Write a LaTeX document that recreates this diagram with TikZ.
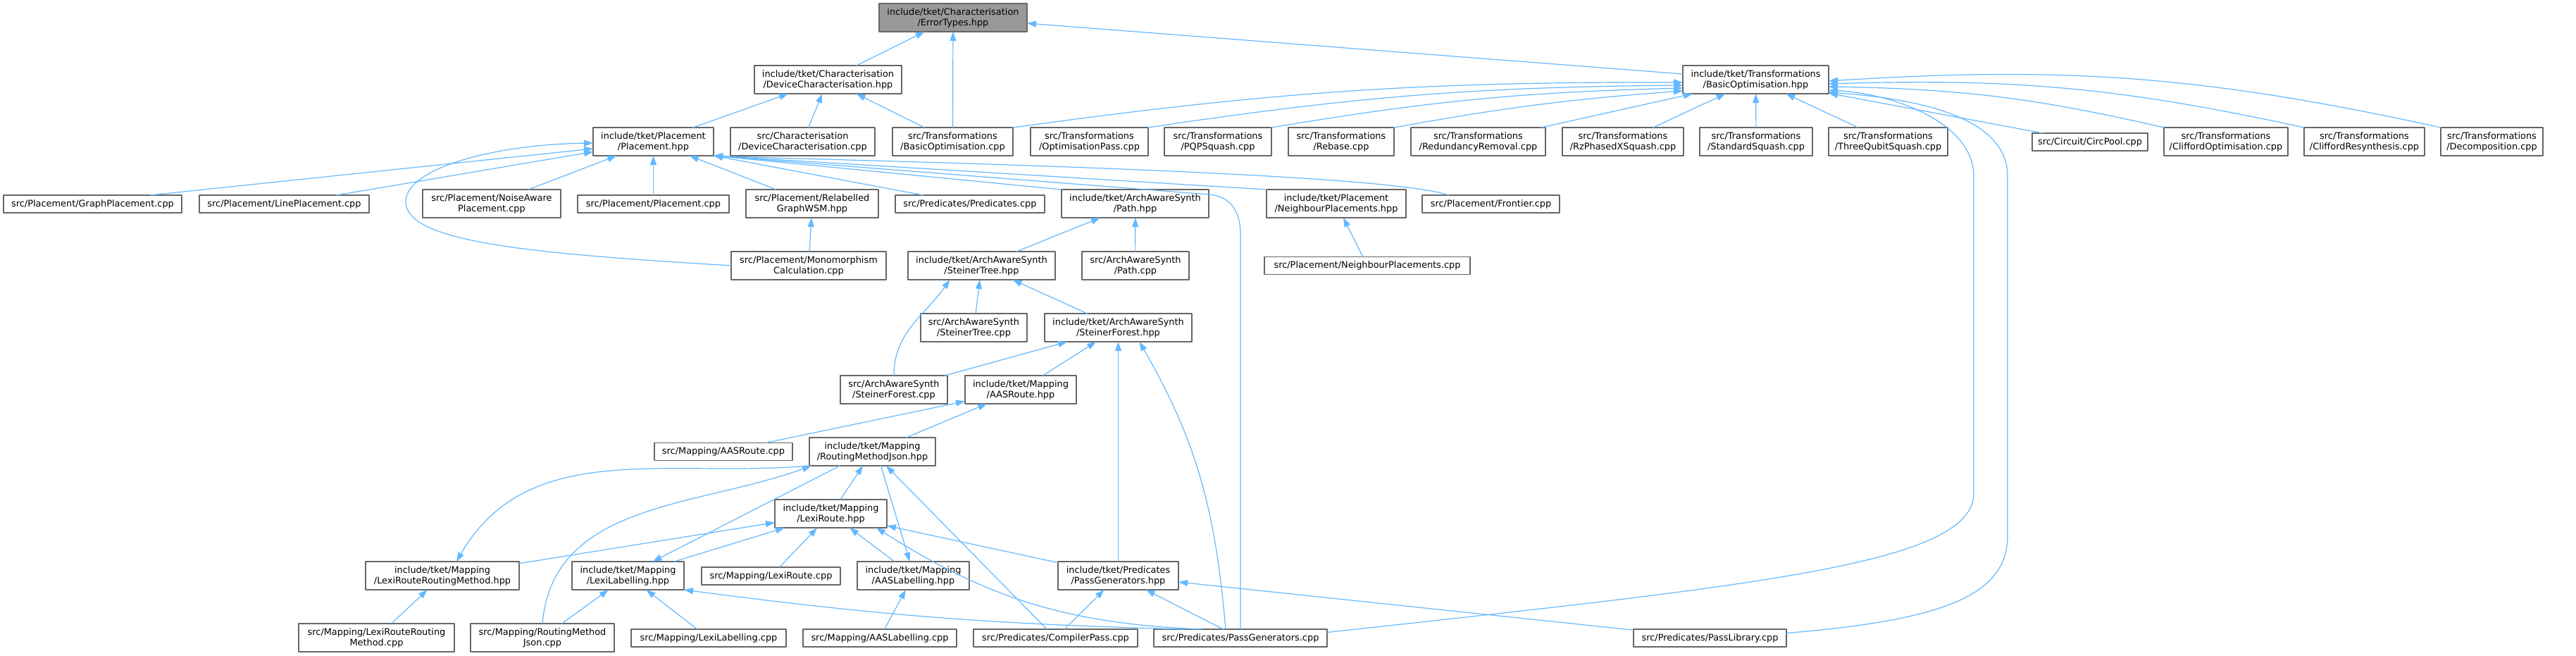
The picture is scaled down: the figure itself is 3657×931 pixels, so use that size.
\documentclass[tikz,border=0pt]{standalone}
\usepackage{fontspec}
\setmainfont{DejaVu Sans}
\usepackage{tikz}
\usetikzlibrary{arrows.meta}
\definecolor{depblue}{HTML}{63B8FF}
\definecolor{boxgrey}{HTML}{666666}
\definecolor{rootgrey}{HTML}{999999}
\tikzset{
    every picture/.style={line cap=round,line join=round},
    filenode/.style={draw=boxgrey,fill=white,line width=1.1pt,
      minimum height=40pt,inner sep=2pt,outer sep=0pt,
      font=\fontsize{12.9}{15}\selectfont,align=center},
    onerow/.style={minimum height=25pt},
    wd/.style={minimum width=#1pt},
    rootnode/.style={filenode,fill=rootgrey},
    incarrow/.style={-{Triangle[length=13pt,width=9pt]},draw=depblue,
      line width=1.2pt}
}

\begin{document}
\begin{tikzpicture}[x=1pt,y=-1pt]
  \useasboundingbox (0,0) rectangle (3657,931);
  % top
  \node[rootnode,wd=210] (err) at (1353,25) {include/tket/Characterisation\\/ErrorTypes.hpp};
  \node[filenode,wd=209] (devh) at (1175.5,113) {include/tket/Characterisation\\/DeviceCharacterisation.hpp};
  \node[filenode,wd=207] (boh) at (2492.5,113) {include/tket/Transformations\\/BasicOptimisation.hpp};
  % row 2
  \node[filenode,wd=171] (plh) at (927.5,201) {include/tket/Placement\\/Placement.hpp};
  \node[filenode,wd=205] (devcpp) at (1139.5,201) {src/Characterisation\\/DeviceCharacterisation.cpp};
  \node[filenode,wd=171] (bocpp) at (1352.5,201) {src/Transformations\\/BasicOptimisation.cpp};
  \node[filenode,wd=167] (optpass) at (1546.5,201) {src/Transformations\\/OptimisationPass.cpp};
  \node[filenode,wd=152] (pqp) at (1729,201) {src/Transformations\\/PQPSquash.cpp};
  \node[filenode,wd=150] (rebase) at (1904,201) {src/Transformations\\/Rebase.cpp};
  \node[filenode,wd=191] (redund) at (2098.5,201) {src/Transformations\\/RedundancyRemoval.cpp};
  \node[filenode,wd=172] (rzpx) at (2304,201) {src/Transformations\\/RzPhasedXSquash.cpp};
  \node[filenode,wd=160] (stdsq) at (2493,201) {src/Transformations\\/StandardSquash.cpp};
  \node[filenode,wd=169] (threeq) at (2680.5,201) {src/Transformations\\/ThreeQubitSquash.cpp};
  \node[filenode,onerow,wd=164] (circpool) at (2967,201.5) {src/Circuit/CircPool.cpp};
  \node[filenode,wd=176] (clifopt) at (3160,201) {src/Transformations\\/CliffordOptimisation.cpp};
  \node[filenode,wd=171] (clifres) at (3356.5,201) {src/Transformations\\/CliffordResynthesis.cpp};
  \node[filenode,wd=145] (decomp) at (3537.5,201) {src/Transformations\\/Decomposition.cpp};
  % row 3
  \node[filenode,onerow,wd=253] (graphpl) at (131.5,289.5) {src/Placement/GraphPlacement.cpp};
  \node[filenode,onerow,wd=241] (linepl) at (403.5,289.5) {src/Placement/LinePlacement.cpp};
  \node[filenode,wd=196] (noisepl) at (698,289) {src/Placement/NoiseAware\\Placement.cpp};
  \node[filenode,onerow,wd=215] (plcpp) at (927.5,289.5) {src/Placement/Placement.cpp};
  \node[filenode,wd=188] (relab) at (1153,289) {src/Placement/Relabelled\\GraphWSM.hpp};
  \node[filenode,onerow,wd=212] (predcpp) at (1377,289.5) {src/Predicates/Predicates.cpp};
  \node[filenode,wd=209] (pathh) at (1611.5,289) {include/tket/ArchAwareSynth\\/Path.hpp};
  \node[filenode,wd=198] (neighh) at (1897,289) {include/tket/Placement\\/NeighbourPlacements.hpp};
  \node[filenode,onerow,wd=195] (frontier) at (2116.5,289.5) {src/Placement/Frontier.cpp};
  % row 4
  \node[filenode,wd=220] (mono) at (1148,377) {src/Placement/Monomorphism\\Calculation.cpp};
  \node[filenode,wd=209] (steinth) at (1393.5,377) {include/tket/ArchAwareSynth\\/SteinerTree.hpp};
  \node[filenode,wd=152] (pathcpp) at (1612,377) {src/ArchAwareSynth\\/Path.cpp};
  \node[filenode,onerow,wd=292] (neighcpp) at (1941,377) {src/Placement/NeighbourPlacements.cpp};
  % rows 5 to 8
  \node[filenode,wd=151] (steintcpp) at (1382.5,465) {src/ArchAwareSynth\\/SteinerTree.cpp};
  \node[filenode,wd=209] (steinfh) at (1587.5,465) {include/tket/ArchAwareSynth\\/SteinerForest.hpp};
  \node[filenode,wd=152] (steinfcpp) at (1269,553) {src/ArchAwareSynth\\/SteinerForest.cpp};
  \node[filenode,wd=158] (aasrh) at (1449,553) {include/tket/Mapping\\/AASRoute.hpp};
  \node[filenode,onerow,wd=196] (aasrcpp) at (1027,641) {src/Mapping/AASRoute.cpp};
  \node[filenode,wd=179] (rmjh) at (1238.5,641) {include/tket/Mapping\\/RoutingMethodJson.hpp};
  \node[filenode,wd=159] (lexih) at (1179.5,729) {include/tket/Mapping\\/LexiRoute.hpp};
  % row 9
  \node[filenode,wd=218] (lrrmh) at (628,817) {include/tket/Mapping\\/LexiRouteRoutingMethod.hpp};
  \node[filenode,wd=159] (lexilabh) at (891.5,817) {include/tket/Mapping\\/LexiLabelling.hpp};
  \node[filenode,onerow,wd=197] (lexicpp) at (1094.5,817.5) {src/Mapping/LexiRoute.cpp};
  \node[filenode,wd=159] (aaslabh) at (1296.5,817) {include/tket/Mapping\\/AASLabelling.hpp};
  \node[filenode,wd=171] (passgenh) at (1587.5,817) {include/tket/Predicates\\/PassGenerators.hpp};
  % bottom
  \node[filenode,wd=221] (lrrmcpp) at (534.5,905) {src/Mapping/LexiRouteRouting\\Method.cpp};
  \node[filenode,wd=204] (rmjcpp) at (770,905) {src/Mapping/RoutingMethod\\Json.cpp};
  \node[filenode,onerow,wd=220] (lexilabcpp) at (1006,905.5) {src/Mapping/LexiLabelling.cpp};
  \node[filenode,onerow,wd=218] (aaslabcpp) at (1249,905.5) {src/Mapping/AASLabelling.cpp};
  \node[filenode,onerow,wd=233] (compcpp) at (1498.5,905.5) {src/Predicates/CompilerPass.cpp};
  \node[filenode,onerow,wd=246] (passgencpp) at (1761,905.5) {src/Predicates/PassGenerators.cpp};
  \node[filenode,onerow,wd=217] (passlibcpp) at (2427.5,905.5) {src/Predicates/PassLibrary.cpp};

  % includes, arrow at the included file
  \foreach \a/\b in {devh/err,bocpp/err,boh/err,plh/devh,devcpp/devh,bocpp/devh,
      redund/boh,rzpx/boh,stdsq/boh,threeq/boh,circpool/boh,linepl/plh,noisepl/plh,
      plcpp/plh,relab/plh,mono/relab,steinth/pathh,pathcpp/pathh,neighcpp/neighh,
      steintcpp/steinth,steinfh/steinth,steinfcpp/steinfh,aasrh/steinfh,
      passgenh/steinfh,aasrcpp/aasrh,rmjh/aasrh,lexih/rmjh,compcpp/rmjh,
      lrrmcpp/lrrmh,lexilabh/lexih,lrrmh/lexih,lexicpp/lexih,aaslabh/lexih,
      passgenh/lexih,lexilabcpp/lexilabh,rmjcpp/lexilabh,aaslabcpp/aaslabh,
      compcpp/passgenh,passgencpp/passgenh,passlibcpp/passgenh}
    \draw[incarrow] (\a) -- (\b);
  \draw[incarrow] (bocpp.north east) to[bend left=4] ([yshift=-4pt]boh.west);
  \draw[incarrow] (optpass.north east) to[bend left=4] ([yshift=-8pt]boh.west);
  \draw[incarrow] (pqp.north east) to[bend left=4] ([yshift=-12pt]boh.west);
  \draw[incarrow] (rebase.north east) to[bend left=3] ([yshift=-16pt]boh.west);
  \draw[incarrow] (clifopt.north west) to[bend right=6] ([yshift=-10pt]boh.east);
  \draw[incarrow] (clifres.north west) to[bend right=7] ([yshift=-6pt]boh.east);
  \draw[incarrow] (decomp.north west) to[bend right=8] ([yshift=-2pt]boh.east);
  \draw[incarrow] ([yshift=8pt]passgencpp.east) .. controls (2500,830) and (2802,800) .. (2802,700)
    -- (2802,250) .. controls (2802,175) and (2690,133) .. ([yshift=-15pt]boh.east);
  \draw[incarrow] ([yshift=7pt]passlibcpp.east) .. controls (2760,880) and (2850,845) .. (2850,760)
    -- (2850,250) .. controls (2850,165) and (2720,140) .. ([yshift=-18pt]boh.east);
  % into Placement.hpp
  \draw[incarrow] ([xshift=82pt]graphpl.north) -- ([yshift=-10pt]plh.west);
  \draw[incarrow] (mono.west) .. controls (760,360) and (585,345) .. (576,290)
    .. controls (570,240) and (700,205) .. ([yshift=-2pt]plh.west);
  \draw[incarrow] (predcpp) -- (plh.south east);
  \draw[incarrow] (pathh.north west) -- (plh.south east);
  \draw[incarrow] (neighh.north west) -- (plh.south east);
  \draw[incarrow] ([xshift=-60pt]frontier.north) .. controls (1960,242) and (1115,226) .. (plh.south east);
  \draw[incarrow] (passgencpp.north) -- ++(0,-560) .. controls +(0,-40) and +(25,2) .. ++(-45,-57) -- (plh.south east);
  % curved ones lower down
  \draw[incarrow] (steinfcpp.north) to[out=90,in=-125] ([xshift=-45pt]steinth.south);
  \draw[incarrow] ([xshift=-21pt]passgencpp.north) to[out=95,in=-60] ([xshift=30pt]steinfh.south);
  \draw[incarrow] (rmjh.south west) to[out=185,in=60] ([xshift=20pt]lrrmh.north);
  \draw[incarrow] (rmjcpp.north) to[out=85,in=-160] ([xshift=3pt]rmjh.south west);
  \draw[incarrow] ([xshift=-46pt]rmjh.south) -- ([xshift=35pt]lexilabh.north);
  \draw[incarrow] ([xshift=12pt]rmjh.south) -- ([xshift=-5pt]aaslabh.north);
  \draw[incarrow] ([xshift=-56pt]passgencpp.north) to[bend left=15] ([xshift=-15pt]lexih.south east);
  \draw[incarrow] ([xshift=-79pt]passgencpp.north) to[bend left=3] (lexilabh.south east);
\end{tikzpicture}
\end{document}
